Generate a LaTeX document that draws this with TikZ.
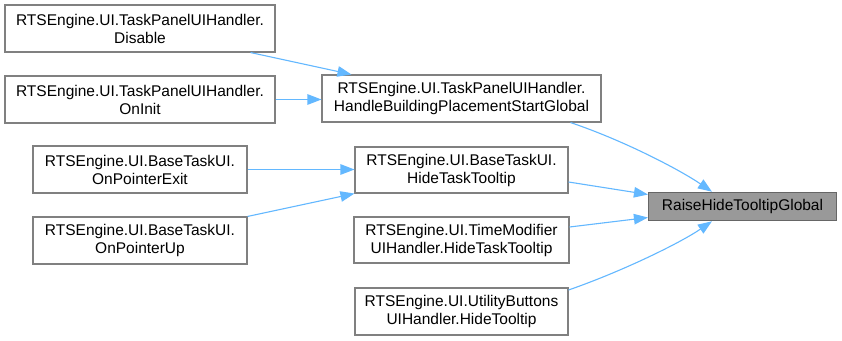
\documentclass[tikz,border=0pt]{standalone}
\usepackage{fontspec}
\setmainfont{Liberation Sans}
\usetikzlibrary{arrows.meta}
\definecolor{edgeblue}{HTML}{63B8FF}
\definecolor{boxline}{HTML}{808080}
\definecolor{hlfill}{HTML}{999999}
\definecolor{hlline}{HTML}{666666}
\begin{document}
\begin{tikzpicture}[x=1pt,y=-1pt,
  fn/.style={draw=boxline,line width=1.1pt,fill=white,align=center,inner sep=0pt,
    font=\fontsize{15.5}{18}\selectfont},
  hl/.style={fn,fill=hlfill,draw=hlline},
  call/.style={draw=edgeblue,line width=1.1pt,-{Triangle[length=14pt,width=10.5pt]}}]
\useasboundingbox[fill=white] (0,0) rectangle (842,340);

% callers of the callers
\node[fn,minimum width=270pt,minimum height=47pt] (dis) at (140,28.5)
  {RTSEngine.UI.TaskPanelUIHandler.\\Disable};
\node[fn,minimum width=270pt,minimum height=47pt] (oninit) at (140,99.5)
  {RTSEngine.UI.TaskPanelUIHandler.\\OnInit};
\node[fn,minimum width=214pt,minimum height=47pt] (pexit) at (140,169.5)
  {RTSEngine.UI.BaseTaskUI.\\OnPointerExit};
\node[fn,minimum width=214pt,minimum height=47pt] (pup) at (140,240.5)
  {RTSEngine.UI.BaseTaskUI.\\OnPointerUp};

% direct callers
\node[fn,minimum width=279pt,minimum height=47pt] (hbp) at (461.5,98.5)
  {RTSEngine.UI.TaskPanelUIHandler.\\HandleBuildingPlacementStartGlobal};
\node[fn,minimum width=213pt,minimum height=46pt] (htt) at (461.5,170)
  {RTSEngine.UI.BaseTaskUI.\\HideTaskTooltip};
\node[fn,minimum width=215pt,minimum height=46pt] (tm) at (461.5,240)
  {RTSEngine.UI.TimeModifier\\UIHandler.HideTaskTooltip};
\node[fn,minimum width=213pt,minimum height=47pt] (ub) at (461.5,311.5)
  {RTSEngine.UI.UtilityButtons\\UIHandler.HideTooltip};

% the documented function
\node[hl,minimum width=188pt,minimum height=28.5pt] (raise) at (742.5,206.5)
  {RaiseHideTooltipGlobal};

% call edges
\draw[call] ([xshift=-25pt]dis.south east) -- ([xshift=30pt]hbp.north west);
\draw[call] (oninit.east) -- (oninit.east -| hbp.west);
\draw[call] (pexit.east) -- (pexit.east -| htt.west);
\draw[call] (pup.north east) -- (htt.south west);
\draw[call] ([xshift=-31pt]hbp.south east) .. controls (625,141) and (680,170) .. ([xshift=64pt]raise.north west);
\draw[call] ([yshift=-12pt]htt.east) -- ([yshift=12pt]raise.west);
\draw[call] ([yshift=13pt]tm.east) -- ([yshift=-11pt]raise.west);
\draw[call] ([yshift=21.5pt]ub.east) .. controls (623,271) and (680,243) .. ([xshift=64pt]raise.south west);
\end{tikzpicture}
\end{document}
